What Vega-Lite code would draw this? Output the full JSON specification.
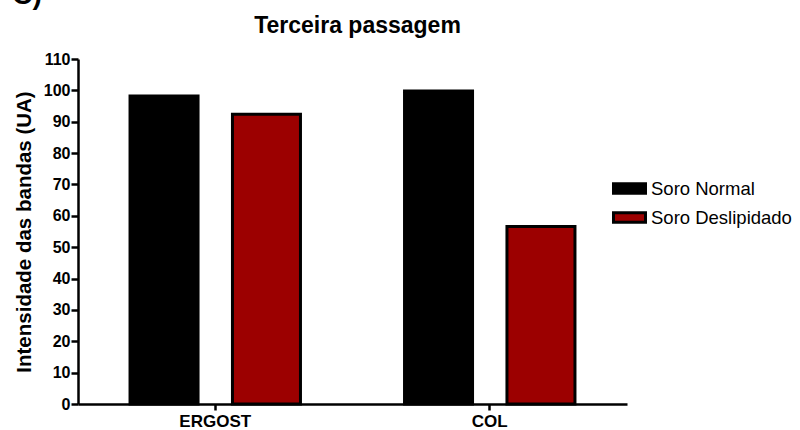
{
  "$schema": "https://vega.github.io/schema/vega-lite/v6.json",
  "width": 549,
  "height": 345,
  "autosize": {"type": "none"},
  "padding": {"left": 78, "top": 59, "right": 173, "bottom": 26},
  "background": "white",
  "title": {"text": "C)", "anchor": "start", "frame": "bounds", "fontSize": 28, "font": "Liberation Sans", "fontWeight": "bold", "color": "black", "offset": 0, "dy": -4, "dx": -2},
  "config": {"view": {"stroke": null}, "font": "Liberation Sans"},
  "data": {"values": [
    {"grupo": "ERGOST", "soro": "Soro Normal", "valor": 98.2},
    {"grupo": "ERGOST", "soro": "Soro Deslipidado", "valor": 92.4},
    {"grupo": "COL", "soro": "Soro Normal", "valor": 99.8},
    {"grupo": "COL", "soro": "Soro Deslipidado", "valor": 56.6}
  ]},
  "layer": [
    {
      "mark": {"type": "bar", "stroke": "black", "strokeWidth": 3},
      "encoding": {
        "x": {"field": "grupo", "type": "nominal", "sort": null,
              "scale": {"paddingInner": 0, "paddingOuter": 0},
              "axis": {"title": null, "labelAngle": 0, "labelFontSize": 17, "labelFontWeight": "bold", "labelColor": "black", "labelFont": "Liberation Sans",
                       "tickColor": "black", "tickWidth": 2.5, "tickSize": 6, "domainColor": "black", "domainWidth": 2.5, "labelPadding": 3, "grid": false}},
        "xOffset": {"field": "soro", "type": "nominal", "sort": ["Soro Normal", "Soro Deslipidado"],
                    "scale": {"paddingInner": 0.336, "paddingOuter": 0.508}},
        "y": {"field": "valor", "type": "quantitative",
              "scale": {"domain": [0, 110], "nice": false},
              "axis": {"title": "Intensidade das bandas (UA)", "titleFontSize": 20.5, "titleFontWeight": "bold", "titleColor": "black", "titleFont": "Liberation Sans", "titlePadding": 9,
                       "values": [0, 10, 20, 30, 40, 50, 60, 70, 80, 90, 100, 110],
                       "labelFontSize": 16, "labelFontWeight": "bold", "labelColor": "black", "labelFont": "Liberation Sans", "labelPadding": 1,
                       "tickSize": 7, "tickWidth": 2.5, "tickColor": "black", "domainColor": "black", "domainWidth": 2.5, "grid": false}},
        "color": {"field": "soro", "type": "nominal",
                  "scale": {"domain": ["Soro Normal", "Soro Deslipidado"], "range": ["#000000", "#9c0000"]},
                  "legend": {"title": null, "orient": "none", "legendX": 534, "legendY": 112, "labelFontSize": 18.5, "labelFont": "Liberation Sans", "labelColor": "black",
                             "symbolType": "M-1,-0.3H1V0.3H-1Z", "symbolSize": 1024, "symbolStrokeColor": "black", "symbolStrokeWidth": 3, "symbolOpacity": 1,
                             "rowPadding": -2, "labelOffset": 4, "padding": 0}}
      }
    },
    {
      "mark": {"type": "bar", "opacity": 0},
      "encoding": {
        "x": {"field": "grupo", "type": "nominal", "sort": null,
              "axis": {"orient": "top", "title": "Terceira passagem", "labels": false, "ticks": false, "domain": false, "grid": false,
                       "titleFontSize": 23, "titleFontWeight": "bold", "titleColor": "black", "titleFont": "Liberation Sans", "titlePadding": 22, "titleX": 279}}
      }
    }
  ],
  "resolve": {"axis": {"x": "independent"}}
}
